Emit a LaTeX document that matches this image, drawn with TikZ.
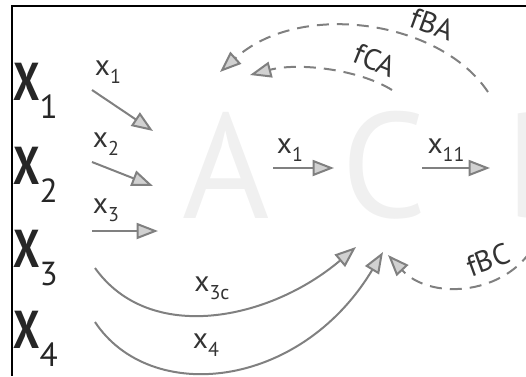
\documentclass[tikz,border=0pt]{standalone}
\usepackage{fontspec}
\setmainfont{PT Sans}
\usetikzlibrary{arrows.meta}

% input names on the left and flow labels
\newcommand{\bigX}[1]{\scalebox{0.78}[1]{\fontsize{40}{40}\selectfont\bfseries X}\raisebox{-14pt}{\fontsize{25}{25}\selectfont #1}}
\newcommand{\xlab}[1]{x\raisebox{-6pt}{\fontsize{15}{15}\selectfont #1}}

\tikzset{
	flow/.style={draw=black!50, line width=1.5pt,
		-{Triangle[length=16pt,width=12pt,fill=black!18]}},
	feedback/.style={flow, dash pattern=on 9pt off 6pt},
	block/.style={text=black!6, inner sep=0pt,
		font=\fontsize{112}{112}\selectfont},
	input/.style={text=black!85, anchor=base west, inner sep=0pt},
	flowtext/.style={text=black!80, inner sep=1pt,
		font=\fontsize{22}{22}\selectfont},
}

\begin{document}
\begin{tikzpicture}[x=0.75pt,y=-0.75pt]
		% Drawing units are pixels of the 526x376 frame, y downwards.
		\clip (0,0) rectangle (526,376);

		% Frame, cut off at right and bottom.
		\draw[line width=1.6pt] (11,6) -- (526,6);
		\draw[line width=1.6pt] (12,6) -- (12,376);

		% The three blocks, printed very faint.
		\node[block] (A) at (226,165) {A};
		\node[block] (C) at (384,165) {C};
		\node[block, anchor=west] (B) at (505,165) {B};

		% Inputs.
		\node[input] (X1) at (13,100) {\bigX{1}};
		\node[input] (X2) at (13,184) {\bigX{2}};
		\node[input] (X3) at (13,267) {\bigX{3}};
		\node[input] (X4) at (13,348) {\bigX{4}};

		% Ends of the straight flows.
		\coordinate (s1) at (92,90);   \coordinate (t1) at (153,131);
		\coordinate (s2) at (92,162);  \coordinate (t2) at (153,186);
		\coordinate (s3) at (92,231);  \coordinate (t3) at (158,231);
		\coordinate (sAC) at (273,168); \coordinate (tAC) at (334,168);
		\coordinate (sCB) at (422,168); \coordinate (tCB) at (490,168);

		\draw[flow] (s1) -- (t1);
		\draw[flow] (s2) -- (t2);
		\draw[flow] (s3) -- (t3);
		\draw[flow] (sAC) -- (tAC);
		\draw[flow] (sCB) -- (tCB);

		\node[flowtext] (l1) at (108,72) {\xlab{1}};
		\node[flowtext] (l2) at (106,144) {\xlab{2}};
		\node[flowtext] (l3) at (106,210) {\xlab{3}};
		\node[flowtext] (lAC) at (290,150) {\xlab{1}};
		\node[flowtext] (lCB) at (446,150) {\xlab{11}};

		% The two bypasses into C, bending under A.
		\coordinate (s3c) at (95,268); \coordinate (t3c) at (356,247);
		\coordinate (s4) at (95,322);  \coordinate (t4) at (383,252);
		\draw[flow] (s3c) .. controls (150,345) and (270,320) .. (t3c);
		\draw[flow] (s4) .. controls (150,405) and (300,390) .. (t4);
		\node[flowtext] (l3c) at (212,288) {\xlab{3c}};
		\node[flowtext] (l4) at (206,345) {\xlab{4}};

		% Feedback paths, dashed.
		\coordinate (sBA) at (488,92);  \coordinate (tBA) at (220,72);
		\coordinate (sCA) at (392,90);  \coordinate (tCA) at (250,75);
		\coordinate (sBC) at (530,252); \coordinate (tBC) at (388,255);
		\draw[feedback] (sBA) .. controls (440,20) and (300,0) .. (tBA);
		\draw[feedback] (sCA) .. controls (360,70) and (300,62) .. (tCA);
		\draw[feedback] (sBC) .. controls (500,295) and (430,300) .. (tBC);
		\node[flowtext, rotate=-20] (lBA) at (432,24) {fBA};
		\node[flowtext, rotate=-22] (lCA) at (375,60) {fCA};
		\node[flowtext, rotate=20] (lBC) at (488,260) {fBC};
	\end{tikzpicture}
\end{document}
